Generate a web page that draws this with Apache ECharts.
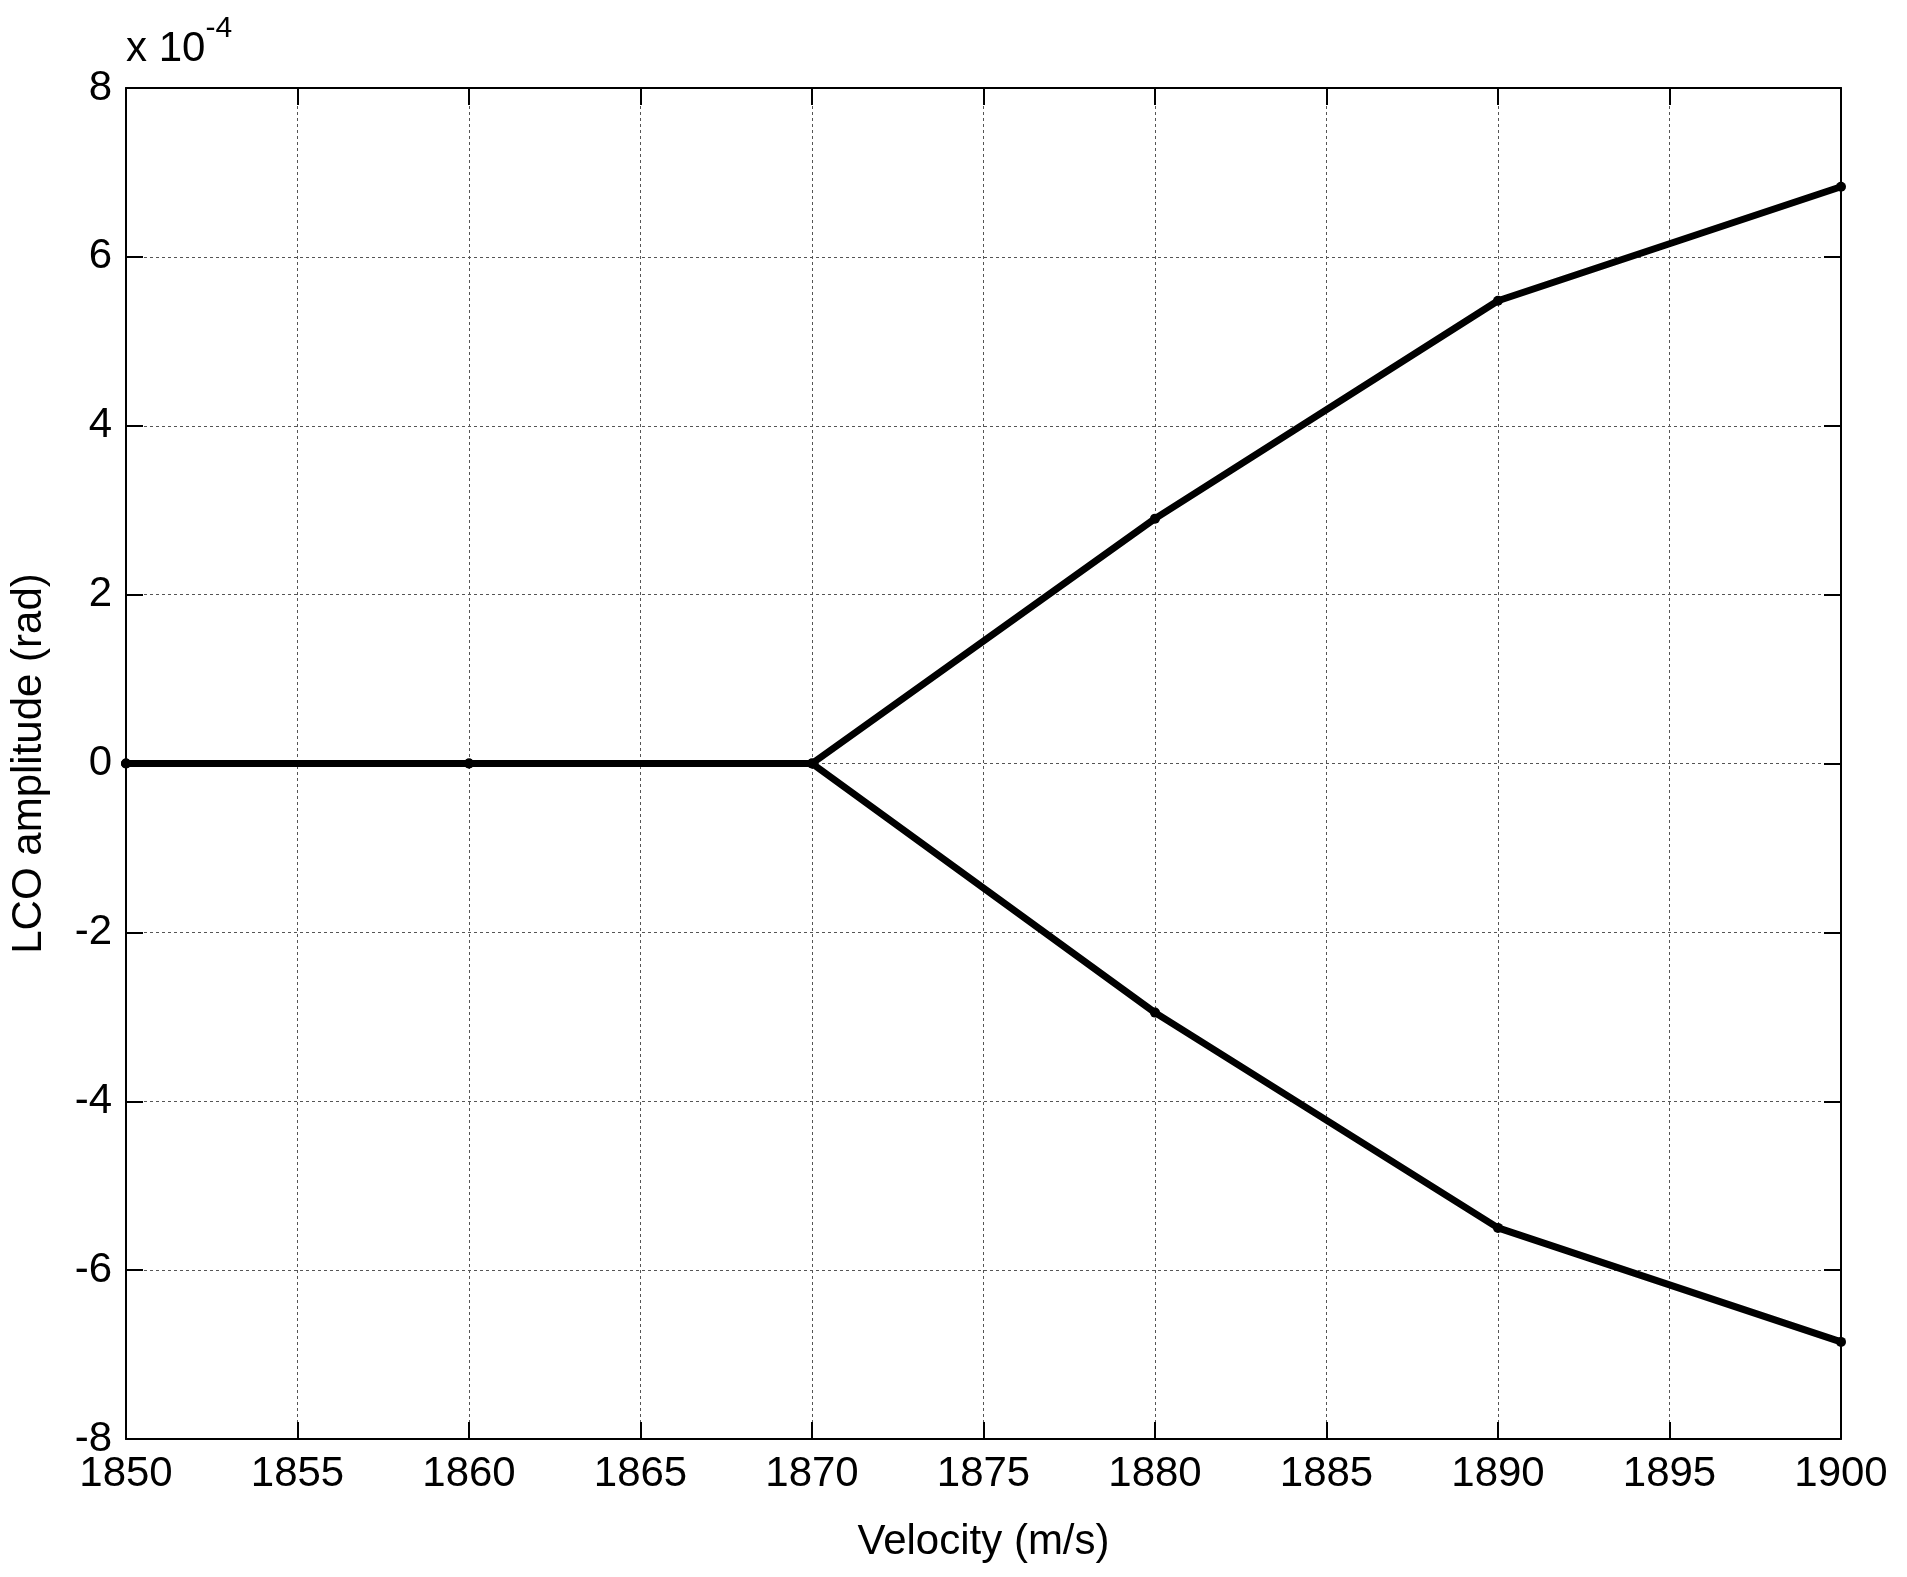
<!DOCTYPE html>
<html><head><meta charset="utf-8">
<script src="https://cdn.jsdelivr.net/npm/echarts@6/dist/echarts.min.js"></script>
<style>html,body{margin:0;padding:0;background:#fff}#c{width:1907px;height:1577px}</style>
</head><body><div id="c"></div>
<script>
var velocity = [1850, 1860, 1870, 1880, 1890, 1900];
var upper = [0, 0, 0, 2.9, 5.48, 6.83];   // x 1e-4 rad
var lower = [0, 0, 0, -2.95, -5.5, -6.85];
var font = 'Liberation Sans, Arial, sans-serif';

function pairs(v) { return velocity.map(function (x, i) { return [x, v[i]]; }); }

var tick = { show: true, inside: true, length: 17, lineStyle: { color: '#000', width: 2 } };
var axLine = { show: true, onZero: false, lineStyle: { color: '#000', width: 2 } };
var grid = { show: true, lineStyle: { color: '#555', type: [3, 3], width: 1 } };
var lbl = { color: '#000', fontSize: 42, fontFamily: font };

var chart = echarts.init(document.getElementById('c'));
chart.setOption({
  animation: false,
  grid: { left: 126, right: 66, top: 88, bottom: 138 },
  xAxis: [
    { type: 'value', min: 1850, max: 1900, interval: 5, position: 'bottom',
      axisLine: axLine, axisTick: tick, splitLine: grid,
      axisLabel: Object.assign({ margin: 14, formatter: function (v) { return String(v); } }, lbl),
      name: 'Velocity (m/s)', nameLocation: 'middle', nameGap: 82,
      nameTextStyle: { color: '#000', fontSize: 42, fontFamily: font } },
    { type: 'value', min: 1850, max: 1900, interval: 5, position: 'top',
      axisLine: axLine, axisTick: tick, splitLine: { show: false }, axisLabel: { show: false } }
  ],
  yAxis: [
    { type: 'value', min: -8, max: 8, interval: 2, position: 'left',
      axisLine: axLine, axisTick: tick, splitLine: grid,
      axisLabel: Object.assign({ margin: 14 }, lbl),
      name: 'LCO amplitude (rad)', nameLocation: 'middle', nameGap: 76,
      nameTextStyle: { color: '#000', fontSize: 42, fontFamily: font } },
    { type: 'value', min: -8, max: 8, interval: 2, position: 'right',
      axisLine: axLine, axisTick: tick, splitLine: { show: false }, axisLabel: { show: false } }
  ],
  graphic: [{
    type: 'text', left: 126, top: 14,
    style: {
      text: '{a|x 10}{b|-4}', fill: '#000', fontFamily: font,
      rich: { a: { fontSize: 42, fontFamily: font, verticalAlign: 'bottom', lineHeight: 56 },
              b: { fontSize: 30, fontFamily: font, verticalAlign: 'top', lineHeight: 56, padding: [0, 0, 24, 0] } }
    }
  }],
  series: [upper, lower].map(function (v) {
    return { type: 'line', data: pairs(v), symbol: 'circle', symbolSize: 10,
      lineStyle: { color: '#000', width: 7 }, itemStyle: { color: '#000' } };
  })
});
</script></body></html>
